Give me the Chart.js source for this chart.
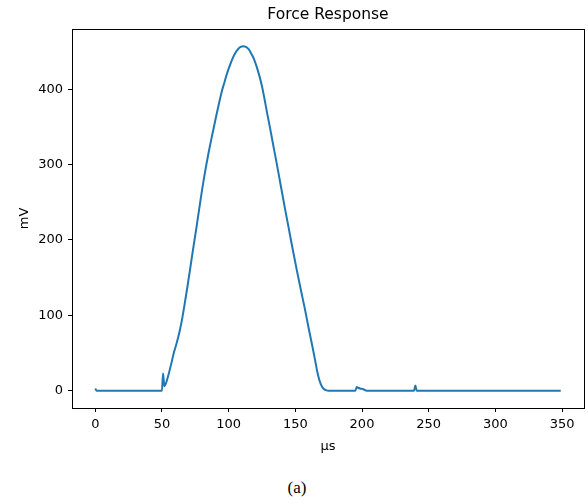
<!DOCTYPE html>
<html>
<head>
<meta charset="utf-8">
<script src="https://cdn.jsdelivr.net/npm/chart.js@4.4.1/dist/chart.umd.min.js"></script>
<style>
  html, body { margin: 0; padding: 0; background: #fff; }
  #wrap { position: relative; width: 588px; height: 504px; }
  #caption {
    position: absolute; left: 0; width: 594px; top: 478px;
    text-align: center; font-family: "Liberation Serif", serif; font-size: 17px; color: #000;
  }
</style>
</head>
<body>
<div id="wrap">
  <canvas id="force" width="588" height="460"></canvas>
  <div id="caption">(a)</div>
</div>
<script>
// ---------------------
// DATA
// ---------------------
const timeUs = [0, 1, 50, 50.8, 51.8, 53, 55, 57, 59, 61, 63, 65, 67, 69, 71, 73, 76, 79, 82, 85, 88, 91, 93, 95, 97,
  99, 101, 103, 105, 107, 109, 111, 113, 115, 117, 119, 121, 123, 125, 127, 129, 131, 133, 136, 139, 142, 145, 148,
  151, 154, 157, 160, 163, 165, 167, 169, 171, 173, 175, 195, 196, 197, 198.5, 201, 203.5, 239, 240, 241, 349];
const forceMv = [3, 0, 0, 23, 6, 10, 22, 36, 51, 63, 77, 94, 115, 137, 160, 184, 218, 254, 287, 316, 342, 367, 383, 398, 410,
  422, 432, 441, 448, 453, 456, 457, 456, 453, 447, 440, 430, 418, 404, 386, 367, 349, 330, 302, 273, 244, 216, 188,
  161, 135, 110, 83, 57, 39, 21, 9, 3, 0.8, 0, 0, 5, 4, 3, 2, 0, 0, 7, 0, 0];
const xTicks = [0, 50, 100, 150, 200, 250, 300, 350];
const yTicks = [0, 100, 200, 300, 400];

// matplotlib-like 5% margins around the data
function padRange(vals) {
  const lo = Math.min(...vals), hi = Math.max(...vals), m = (hi - lo) * 0.05;
  return [lo - m, hi + m];
}
const [xMin, xMax] = padRange(timeUs);
const [yMin, yMax] = padRange(forceMv);

const FONT = '"DejaVu Sans", sans-serif';

// frame around the plot + title over the plot area
const frame = {
  id: 'frame',
  afterDraw(chart) {
    const { ctx, chartArea: a } = chart;
    ctx.save();
    ctx.strokeStyle = '#000';
    ctx.lineWidth = 1;
    ctx.strokeRect(Math.round(a.left) + 0.5, Math.round(a.top) + 0.5,
      Math.round(a.right - a.left), Math.round(a.bottom - a.top));
    ctx.fillStyle = '#000';
    ctx.font = '15.5px ' + FONT;
    ctx.textAlign = 'center';
    ctx.textBaseline = 'middle';
    ctx.fillText('Force Response', (a.left + a.right) / 2, 15);
    ctx.restore();
  }
};

const ctx = document.getElementById('force').getContext('2d');

new Chart(ctx, {
  type: 'line',
  data: {
    datasets: [{
      data: timeUs.map((t, i) => ({ x: t, y: forceMv[i] })),
      borderColor: '#1f77b4',
      borderWidth: 2,
      pointRadius: 0,
      fill: false,
      cubicInterpolationMode: 'monotone'
    }]
  },
  options: {
    responsive: false,
    animation: false,
    devicePixelRatio: 1,
    layout: { padding: { top: 29, right: 4, left: 0, bottom: 0 } },
    plugins: {
      legend: { display: false },
      tooltip: { enabled: false },
      title: { display: false }
    },
    scales: {
      x: {
        type: 'linear',
        min: xMin,
        max: xMax,
        afterBuildTicks: s => { s.ticks = xTicks.map(v => ({ value: v })); },
        afterFit: s => { s.height = 52; },
        grid: { drawOnChartArea: false, drawTicks: true, tickLength: 4, tickColor: '#000', tickWidth: 1 },
        border: { display: false },
        ticks: { color: '#000', font: { family: FONT, size: 13 }, padding: 5, maxRotation: 0 },
        title: { display: true, text: 'μs', color: '#000', font: { family: FONT, size: 13 }, padding: { top: 0, bottom: 6 } }
      },
      y: {
        type: 'linear',
        min: yMin,
        max: yMax,
        afterBuildTicks: s => { s.ticks = yTicks.map(v => ({ value: v })); },
        afterFit: s => { s.width = 72; },
        grid: { drawOnChartArea: false, drawTicks: true, tickLength: 4, tickColor: '#000', tickWidth: 1 },
        border: { display: false },
        ticks: { color: '#000', font: { family: FONT, size: 13 }, padding: 5 },
        title: { display: true, text: 'mV', color: '#000', font: { family: FONT, size: 13 }, padding: { top: 17, bottom: 0 } }
      }
    }
  },
  plugins: [frame]
});
</script>
</body>
</html>
